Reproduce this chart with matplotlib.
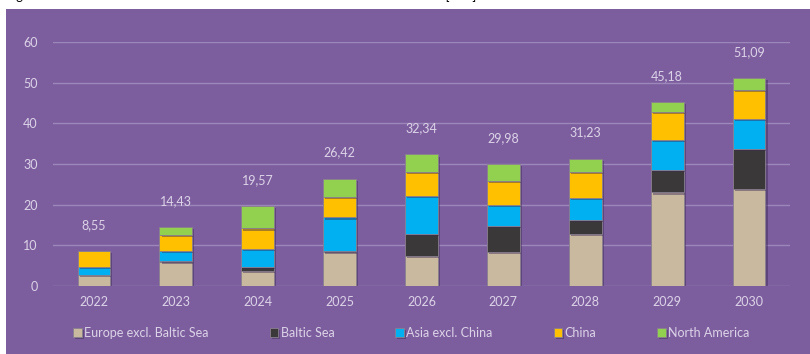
import numpy as np
import matplotlib
matplotlib.use("Agg")
import matplotlib.pyplot as plt
import matplotlib.patheffects as pe
from matplotlib.patches import Rectangle

years = ["2022", "2023", "2024", "2025", "2026", "2027", "2028", "2029", "2030"]
europe = [2.7, 5.8, 3.7, 8.45, 7.45, 8.3, 12.85, 23.0, 23.85]
baltic = [0.0, 0.35, 1.0, 0.05, 5.25, 6.5, 3.45, 5.6, 9.85]
asia = [1.9, 2.4, 4.5, 8.35, 9.35, 5.1, 5.35, 7.4, 7.4]
china = [3.95, 4.05, 4.95, 4.95, 6.0, 6.0, 6.4, 6.85, 7.1]
north_america = [0.0, 1.83, 5.42, 4.62, 4.29, 4.08, 3.18, 2.33, 2.89]
totals = ["8,55", "14,43", "19,57", "26,42", "32,34", "29,98", "31,23", "45,18", "51,09"]

series = [
    ("Europe excl. Baltic Sea", europe, "#c9b99f"),
    ("Baltic Sea", baltic, "#3a3838"),
    ("Asia excl. China", asia, "#00b0f0"),
    ("China", china, "#ffc000"),
    ("North America", north_america, "#92d050"),
]

bg = "#7c5e9e"
txt = "#ddd3e8"

plt.rcParams["font.family"] = ["Lato", "DejaVu Sans"]

fig = plt.figure(figsize=(8.1, 3.54), dpi=100)
fig.patch.set_facecolor("white")
fig.patches.append(Rectangle((6 / 810, 0), 1, 1 - 9 / 354, transform=fig.transFigure,
                             facecolor=bg, edgecolor="none", zorder=-5))
# title of the page, cut off at the top like in the source
fig.text(0.008, 1 + 0.5 / 354,
         "Figure 5: Forecast offshore wind installations in the world from 2022 to 2030 [GW]",
         fontsize=9.3, color="black", va="baseline", ha="left", zorder=-4)

ax = fig.add_axes([53 / 810, 1 - 286 / 354, 737 / 810, 244 / 354])
ax.set_facecolor("none")

x = np.arange(len(years))
bottom = np.zeros(len(years))
shadow = [pe.SimplePatchShadow(offset=(1.5, -1.5), shadow_rgbFace="#3b2a55", alpha=0.45), pe.Normal()]
for name, vals, color in series:
    vals = np.array(vals)
    bars = ax.bar(x, vals, 0.4, bottom=bottom, color=color, label=name,
                  edgecolor="#8a7f8f", linewidth=0.6, zorder=3)
    for b in bars:
        b.set_path_effects(shadow)
    bottom += vals

for i, t in enumerate(totals):
    ax.annotate(t, (x[i], bottom[i]), xytext=(0, 19), textcoords="offset points",
                ha="center", va="center", color=txt, fontsize=9)

ax.set_xlim(-0.5, len(years) - 0.5)
ax.set_ylim(0, 60)
ax.set_yticks(range(0, 61, 10))
ax.set_xticks(x)
ax.set_xticklabels(years)
ax.grid(axis="y", color="#9c86ba", linewidth=1, zorder=0)
for s in ax.spines.values():
    s.set_visible(False)
ax.tick_params(axis="both", length=0, colors=txt, labelsize=9)
ax.tick_params(axis="y", pad=11)
ax.tick_params(axis="x", pad=7)

ax.legend(loc="center", bbox_to_anchor=(0.5 - 10 / 737, (1 - 333 / 354 - (1 - 286 / 354)) / (244 / 354)),
          ncol=5, frameon=False, fontsize=9, labelcolor=txt, handlelength=0.7,
          handleheight=0.7, handletextpad=0.2, columnspacing=4.85)

fig.savefig("out.png", dpi=100, facecolor=fig.get_facecolor())
